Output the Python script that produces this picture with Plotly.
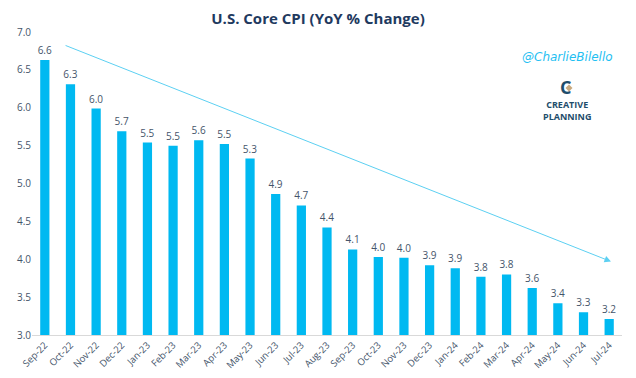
import plotly.graph_objects as go

months = ["Sep-22", "Oct-22", "Nov-22", "Dec-22", "Jan-23", "Feb-23", "Mar-23", "Apr-23",
          "May-23", "Jun-23", "Jul-23", "Aug-23", "Sep-23", "Oct-23", "Nov-23", "Dec-23",
          "Jan-24", "Feb-24", "Mar-24", "Apr-24", "May-24", "Jun-24", "Jul-24"]
core_cpi = [6.63, 6.31, 5.99, 5.69, 5.54, 5.50, 5.57, 5.52, 5.33, 4.86, 4.71, 4.42,
            4.13, 4.03, 4.02, 3.92, 3.88, 3.77, 3.80, 3.62, 3.42, 3.30, 3.21]
y_ticks = [3.0, 3.5, 4.0, 4.5, 5.0, 5.5, 6.0, 6.5, 7.0]
# trend arrow (category index, value)
trend_start = (0.75, 6.83)
trend_end = (22.07, 3.97)

W, H = 636, 378
OFF = 8  # page offset of the figure inside the browser window
ML, MT = 32 - OFF, 32 - OFF
MR, MB = W - (622 - OFF), H - (335 - OFF)
PW, PH = W - ML - MR, H - MT - MB


def px(x, y):
    """screen pixel position -> paper coords (relative to plot area)"""
    return (x - OFF - ML) / PW, (H - MB - (y - OFF)) / PH


text_col = "#44546a"
fig = go.Figure()
fig.add_trace(go.Bar(
    x=list(range(len(months))), y=core_cpi,
    marker=dict(color="#00b9f1", line=dict(width=0)),
    width=0.36,
    text=[f"{v:.1f}" for v in core_cpi], textposition="outside",
    constraintext="none",
    textfont=dict(family="Open Sans", size=10, color=text_col),
    cliponaxis=False,
))

fig.add_annotation(
    x=trend_end[0], y=trend_end[1], ax=trend_start[0], ay=trend_start[1],
    xref="x", yref="y", axref="x", ayref="y",
    showarrow=True, arrowhead=2, arrowsize=1.3, arrowwidth=1,
    arrowcolor="#5cd0f2", text="",
)

fig.update_layout(
    width=W, height=H,
    margin=dict(l=ML, r=MR, t=MT, b=MB, autoexpand=False),
    paper_bgcolor="white", plot_bgcolor="white",
    showlegend=False,
    title=dict(text="<b>U.S. Core CPI (YoY % Change)</b>", x=(318 - OFF) / W, xanchor="center",
               y=1 - (19 - OFF) / H, yanchor="middle",
               font=dict(family="Open Sans", size=15, color="#1f3a5f")),
    xaxis=dict(tickmode="array", tickvals=list(range(len(months))), ticktext=months,
               tickangle=-45, range=[-0.5, len(months) - 0.5], automargin=False,
               tickfont=dict(family="Open Sans", size=9.5, color=text_col),
               showline=True, linecolor="#d9d9d9", linewidth=1, ticks="", showgrid=False),
    yaxis=dict(range=[3, 7], tickvals=y_ticks, ticktext=[f"{v:.1f}" for v in y_ticks],
               automargin=False,
               tickfont=dict(family="Open Sans", size=10, color=text_col),
               showgrid=False, zeroline=False, showline=False, ticks=""),
)

ax_, ay_ = px(567, 57)
fig.add_annotation(text="<i>@CharlieBilello</i>", x=ax_, y=ay_, xref="paper", yref="paper",
                   xanchor="center", yanchor="middle",
                   showarrow=False, font=dict(family="DejaVu Sans", size=12, color="#1fc0f2"))
lx, ly = px(567, 110)
fig.add_annotation(text="<b>CREATIVE<br>PLANNING</b>", x=lx, y=ly, xref="paper", yref="paper",
                   xanchor="center", yanchor="middle",
                   showarrow=False, align="center",
                   font=dict(family="Open Sans", size=9, color="#1e4d6b"))
cx, cy = px(565, 87)
fig.add_annotation(text="<b>C</b>", x=cx, y=cy, xref="paper", yref="paper",
                   xanchor="center", yanchor="middle",
                   showarrow=False, font=dict(family="Open Sans", size=18, color="#1e4d6b"))
dx, dy = px(569, 88)
ddx, ddy = 3.5 / PW, 3.5 / PH
fig.add_shape(type="path", xref="paper", yref="paper",
              path=f"M {dx-ddx} {dy} L {dx} {dy+ddy} L {dx+ddx} {dy} L {dx} {dy-ddy} Z",
              fillcolor="#c8a97e", line=dict(width=0))

fig.write_html("out.html")
